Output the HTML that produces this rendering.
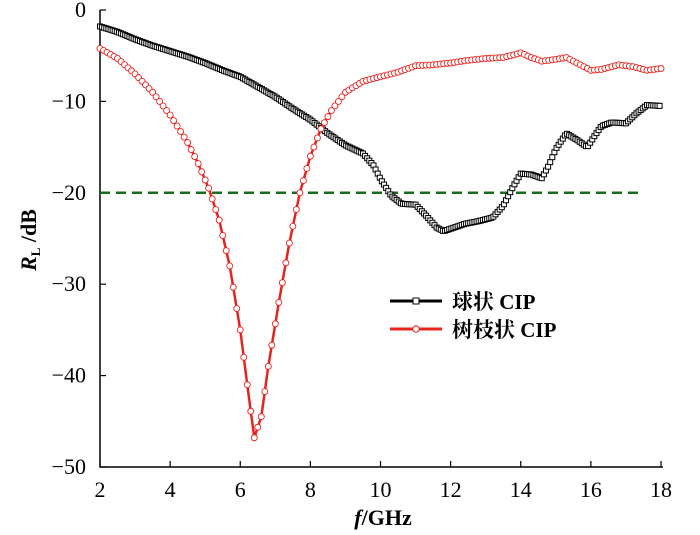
<!DOCTYPE html>
<html><head><meta charset="utf-8"><style>
body{margin:0;background:#fff;}
svg text{font-family:"Liberation Serif","Noto Serif CJK SC",serif;}
</style></head><body>
<svg id="chart" width="700" height="530" xmlns="http://www.w3.org/2000/svg"></svg>
<script>
const xTicks=[2,4,6,8,10,12,14,16,18];
const yTicks=[0,-10,-20,-30,-40,-50];
const sphereF=[2,2.5,3,3.5,4,4.5,5,5.5,6,6.5,7,7.5,8,8.5,9,9.5,9.8,10,10.3,10.6,11,11.3,11.6,11.8,12.1,12.4,12.8,13.2,13.5,13.8,14,14.3,14.6,14.8,15,15.3,15.6,15.9,16.1,16.3,16.6,17,17.3,17.6,18];
const sphereRL=[-1.8,-2.4,-3.2,-3.9,-4.5,-5.1,-5.8,-6.6,-7.3,-8.4,-9.5,-10.8,-12,-13.5,-14.8,-15.7,-17,-18.5,-20.3,-21.2,-21.3,-22.5,-23.8,-24.2,-23.8,-23.4,-23.1,-22.7,-21.4,-19.2,-17.9,-18,-18.4,-17,-15.2,-13.5,-14.2,-15,-13.8,-12.7,-12.3,-12.4,-11.3,-10.4,-10.5];
const dendF=[2,2.5,3,3.5,4,4.5,4.8,5.1,5.4,5.7,6,6.2,6.4,6.6,6.8,7.1,7.4,7.7,8,8.3,8.6,9,9.5,10,10.5,11,11.5,12,12.5,13,13.5,14,14.3,14.6,15,15.3,15.6,16,16.3,16.8,17.2,17.6,18];
const dendRL=[-4.2,-5.3,-7,-9,-11.5,-14.5,-16.8,-19.5,-23,-28,-35,-41,-46.8,-44.5,-39,-32,-25.5,-20,-16,-13,-11,-9,-7.8,-7.3,-6.8,-6.1,-6,-5.8,-5.5,-5.3,-5.2,-4.7,-5.2,-5.6,-5.4,-5.2,-5.8,-6.6,-6.5,-6,-6.2,-6.6,-6.4];
const refLevel=-20;
const X0=100,X1=661,Y0=10,Y1=467;
const sx=f=>X0+(f-2)/16*(X1-X0);
const sy=v=>Y0+(0-v)/50*(Y1-Y0);
const NS="http://www.w3.org/2000/svg";
const svg=document.getElementById('chart');
function mk(tag,attrs,parent){const e=document.createElementNS(NS,tag);for(const k in attrs)e.setAttribute(k,attrs[k]);(parent||svg).appendChild(e);return e;}
function interp(fs,vs,f){for(let i=0;i<fs.length-1;i++){if(f<=fs[i+1]){const t=(f-fs[i])/(fs[i+1]-fs[i]);return vs[i]+t*(vs[i+1]-vs[i]);}}return vs[vs.length-1];}
const ax=mk('path',{d:`M${X0},${Y0} V${Y1} H${X1+2}`,stroke:'#000','stroke-width':1.5,fill:'none'});

xTicks.forEach(t=>{
  const l=mk('line',{x1:sx(t),x2:sx(t),y1:Y1,y2:Y1-6,stroke:'#000','stroke-width':1.2});
  
  const tx=mk('text',{x:sx(t),y:Y1+30,'text-anchor':'middle','font-size':22});tx.textContent=t;
  
});
yTicks.forEach(t=>{
  const l=mk('line',{x1:X0,x2:X0+6,y1:sy(t),y2:sy(t),stroke:'#000','stroke-width':1.2});
  
  const tx=mk('text',{x:X0-14,y:sy(t)+7,'text-anchor':'end','font-size':22});tx.textContent=t===0?'0':'\u2212'+Math.abs(t);
  
});
const xl=mk('text',{x:383,y:525,'text-anchor':'middle','font-size':22,'font-weight':'bold'});
xl.innerHTML='<tspan font-style="italic">f</tspan>/GHz';

const yl=mk('text',{transform:'translate(36,240) rotate(-90)','text-anchor':'middle','font-size':22,'font-weight':'bold'});
yl.innerHTML='<tspan font-style="italic">R</tspan><tspan font-size="13" dy="4">L</tspan><tspan dy="-4"> /dB</tspan>';

const rl=mk('line',{x1:sx(2),x2:sx(17.5),y1:sy(refLevel),y2:sy(refLevel),stroke:'#1a6b1a','stroke-width':2.5,'stroke-dasharray':'10,6'});

function series(fs,vs,color,name,step,shape){
  const g=mk('g',{});
  const p=mk('polyline',{points:fs.map((f,i)=>sx(f)+','+sy(vs[i])).join(' '),fill:'none',stroke:color,'stroke-width':2.5,'stroke-linejoin':'round'},g);
  
  for(let f=2;f<=18.0001;f+=step){
    const v=interp(fs,vs,f);let m;
    if(shape==='sq'){m=mk('rect',{x:sx(f)-2.5,y:sy(v)-2.5,width:5,height:5,fill:'#fff',stroke:color,'stroke-width':1},g);}
    else{m=mk('circle',{cx:sx(f),cy:sy(v),r:3,fill:'#fff',stroke:color,'stroke-width':0.9},g);}
    
  }
}
series(sphereF,sphereRL,'#000','spherical-cip-series',0.06,'sq');
series(dendF,dendRL,'#e8231d','dendritic-cip-series',0.1,'ci');
const lg=mk('g',{});
[['球状 CIP','#000','sq',301],['树枝状 CIP','#e8231d','ci',329]].forEach(([t,c,s,y])=>{
  const e=mk('g',{},lg);
  mk('line',{x1:390,x2:442,y1:y,y2:y,stroke:c,'stroke-width':3},e);
  if(s==='sq')mk('rect',{x:413,y:y-3,width:6,height:6,fill:'#fff',stroke:c,'stroke-width':1},e);
  else mk('circle',{cx:416,cy:y,r:3.2,fill:'#fff',stroke:c,'stroke-width':1},e);
  const tx=mk('text',{x:452,y:y+8,'font-size':21,'font-weight':'bold'},e);tx.textContent=t;
});
</script>
</body></html>
